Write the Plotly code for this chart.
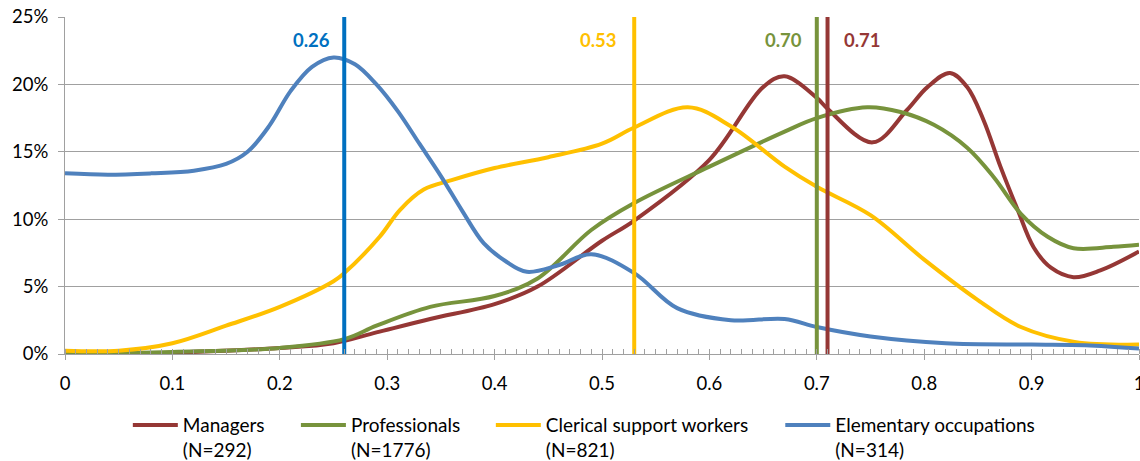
import plotly.graph_objects as go

FONT = "Lato, Carlito, 'Open Sans', sans-serif"

series_names = ["Managers<br>(N=292)", "Professionals<br>(N=1776)",
                "Clerical support workers<br>(N=821)", "Elementary occupations<br>(N=314)"]
colors = ["#953735", "#77933C", "#FFC000", "#4F81BD"]
median_colors = ["#953735", "#77933C", "#FFC000", "#0070C0"]
medians = [0.71, 0.70, 0.53, 0.26]
median_labels = ["0.71", "0.70", "0.53", "0.26"]

managers_x = [0, 0.1, 0.2, 0.25, 0.29, 0.34, 0.4, 0.44, 0.5, 0.53, 0.6, 0.65, 0.67, 0.70, 0.71,
              0.752, 0.784, 0.803, 0.824, 0.840, 0.855, 0.871, 0.887, 0.902, 0.918, 0.939, 0.964, 1.0]
managers_y = [0, 0.1, 0.45, 0.8, 1.6, 2.6, 3.7, 5.0, 8.4, 9.9, 14.4, 19.8, 20.6, 19.0, 18.2,
              15.7, 18.1, 19.8, 20.85, 19.8, 17.4, 13.9, 10.7, 7.9, 6.4, 5.7, 6.2, 7.6]

prof_x = [0, 0.1, 0.2, 0.26, 0.29, 0.34, 0.4, 0.44, 0.49, 0.53, 0.6, 0.67, 0.70, 0.747, 0.778,
          0.809, 0.84, 0.865, 0.89, 0.915, 0.939, 0.976, 1.0]
prof_y = [0, 0.15, 0.45, 1.1, 2.1, 3.5, 4.3, 5.6, 9.2, 11.2, 13.9, 16.5, 17.5, 18.3, 17.95,
          17.0, 15.3, 13.1, 10.4, 8.7, 7.85, 7.95, 8.1]

cler_x = [0, 0.05, 0.1, 0.15, 0.2, 0.25, 0.26, 0.293, 0.312, 0.334, 0.36, 0.4, 0.45, 0.5, 0.53,
          0.58, 0.62, 0.67, 0.70, 0.75, 0.8, 0.85, 0.89, 0.94, 1.0]
cler_y = [0.25, 0.25, 0.8, 2.1, 3.5, 5.4, 6.0, 8.7, 10.7, 12.2, 12.9, 13.8, 14.6, 15.6, 16.8,
          18.3, 16.9, 13.9, 12.4, 10.3, 7.0, 4.0, 2.0, 0.9, 0.7]

elem_x = [0, 0.04, 0.08, 0.12, 0.15, 0.17, 0.19, 0.21, 0.23, 0.25, 0.27, 0.29, 0.31, 0.33,
          0.35, 0.37, 0.39, 0.41, 0.43, 0.46, 0.49, 0.53, 0.57, 0.62, 0.67, 0.70, 0.75,
          0.82, 0.9, 0.95, 1.0]
elem_y = [13.4, 13.3, 13.4, 13.6, 14.1, 15.0, 16.9, 19.5, 21.3, 22.0, 21.5, 20.0, 18.0, 15.6,
          13.2, 10.6, 8.2, 6.9, 6.1, 6.6, 7.4, 6.0, 3.4, 2.5, 2.6, 2.0, 1.3,
          0.8, 0.7, 0.65, 0.4]

xs = [managers_x, prof_x, cler_x, elem_x]
ys = [managers_y, prof_y, cler_y, elem_y]

x_ticks = [0, 0.1, 0.2, 0.3, 0.4, 0.5, 0.6, 0.7, 0.8, 0.9, 1]
x_ticklabels = ["0", "0.1", "0.2", "0.3", "0.4", "0.5", "0.6", "0.7", "0.8", "0.9", "1"]
y_ticks = [0, 5, 10, 15, 20, 25]
y_ticklabels = ["0%", "5%", "10%", "15%", "20%", "25%"]

# legend left positions (paper fraction) for each entry
legend_x = [0.0585, 0.215, 0.3965, 0.666]
legend_ids = ["legend", "legend2", "legend3", "legend4"]

fig = go.Figure()

for name, x, y, c, lid in zip(series_names, xs, ys, colors, legend_ids):
    fig.add_trace(go.Scatter(x=x, y=y, mode="lines", name=name, legend=lid,
                             line=dict(color=c, width=4, shape="spline", smoothing=1.0)))

for m, c in zip(medians, median_colors):
    fig.add_trace(go.Scatter(x=[m, m], y=[0, 25], mode="lines", showlegend=False,
                             line=dict(color=c, width=4), hoverinfo="skip"))

label_side = {"0.71": ("left", 14), "0.70": ("right", -13), "0.53": ("right", -15), "0.26": ("right", -12)}
for m, lab, c in zip(medians, median_labels, median_colors):
    anchor, shift = label_side[lab]
    fig.add_annotation(x=m, y=23.3, text="<b>%s</b>" % lab, showarrow=False,
                       xanchor=anchor, yanchor="middle", xshift=shift,
                       font=dict(family=FONT, size=18.5, color=c))

legend_common = dict(orientation="h", xanchor="left", yref="container", y=0.119, yanchor="top",
                     font=dict(family=FONT, size=19, color="#000000"), itemwidth=45,
                     valign="top", bgcolor="rgba(0,0,0,0)")
layout_legends = {}
for lid, lx in zip(legend_ids, legend_x):
    layout_legends[lid] = dict(x=lx, **legend_common)

fig.update_layout(
    width=1140, height=461,
    margin=dict(l=65, r=1, t=17, b=107, autoexpand=False),
    paper_bgcolor="white", plot_bgcolor="white",
    font=dict(family=FONT, size=18.5, color="#000000"),
    showlegend=True,
    xaxis=dict(range=[0, 1], tickvals=x_ticks, ticktext=x_ticklabels, automargin=False,
               showgrid=False, zeroline=False, showline=True, linecolor="#A0A0A0", linewidth=1,
               ticks="outside", ticklen=5, tickcolor="#A0A0A0", ticklabelstandoff=8,
               ticklabeloverflow="allow",
               minor=dict(dtick=0.01, ticks="inside", ticklen=5, tickcolor="#A0A0A0", showgrid=False),
               tickfont=dict(family=FONT, size=18.5)),
    yaxis=dict(range=[0, 25], tickvals=y_ticks, ticktext=y_ticklabels, automargin=False,
               showgrid=True, gridcolor="#A0A0A0", gridwidth=1, zeroline=False,
               showline=True, linecolor="#A0A0A0", linewidth=1,
               ticks="outside", ticklen=6, tickcolor="#A0A0A0", ticklabelstandoff=6,
               ticklabeloverflow="allow",
               tickfont=dict(family=FONT, size=18.5)),
    **layout_legends,
)

fig.write_html("out.html", config={"displayModeBar": False},
               post_script="document.body.style.margin='0';document.body.style.overflow='hidden';")
